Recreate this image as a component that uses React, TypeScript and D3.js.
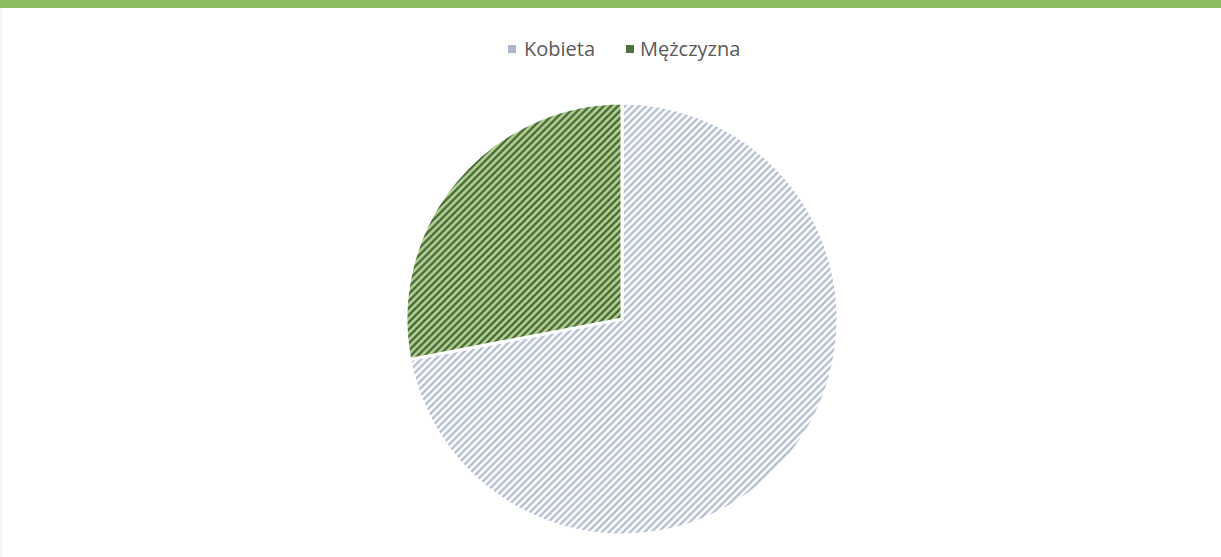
import React from "react";
import * as d3 from "d3";

const categories = ["Kobieta", "Mężczyzna"];
const shares = [72, 28];
const stripeColors = ["#a9b5c9", "#3c5530"];
const fillColors = ["#ffffff", "#b2d690"];

const W = 1221;
const H = 557;

export default function App() {
  const cx = 622;
  const cy = 319;
  const r = 216;

  const pie = d3
    .pie<number>()
    .sort(null)
    .value((d) => d);
  const arcs = pie(shares);
  const arc = d3.arc<d3.PieArcDatum<number>>().innerRadius(0).outerRadius(r);

  // legend positions
  const legend = [
    { x: 508, tx: 524, label: categories[0] },
    { x: 626, tx: 640, label: categories[1] },
  ];

  return (
    <svg
      width={W}
      height={H}
      style={{ position: "absolute", left: 0, top: 0, background: "#fff" }}
    >
      <defs>
        {categories.map((c, i) => (
          <pattern
            key={c}
            id={"hatch" + i}
            width={5}
            height={5}
            patternUnits="userSpaceOnUse"
            patternTransform="rotate(45)"
          >
            <rect width={5} height={5} fill={fillColors[i]} />
            <line x1={1.5} y1={0} x2={1.5} y2={5} stroke={stripeColors[i]} strokeWidth={2.1} />
          </pattern>
        ))}
      </defs>

      <rect x={0} y={0} width={W} height={8} fill="#8dbd5f" />
      <line x1={1} y1={8} x2={1} y2={H} stroke="#eeeeee" strokeWidth={1} />

      <g transform={`translate(${cx},${cy})`}>
        {arcs.map((a, i) => (
          <path
            key={categories[i]}
            d={arc(a) || ""}
            fill={`url(#hatch${i})`}
            stroke="#fff"
            strokeWidth={3}
          />
        ))}
      </g>

      <g fontFamily="'Open Sans', sans-serif" fontSize={20} fill="#5a5a5a">
        {legend.map((l, i) => (
          <g key={l.label}>
            <rect
              x={l.x}
              y={45}
              width={8}
              height={8}
              fill={i === 0 ? "#aab6c8" : "#4f7040"}
            />
            <text x={l.tx} y={56}>
              {l.label}
            </text>
          </g>
        ))}
      </g>
    </svg>
  );
}
